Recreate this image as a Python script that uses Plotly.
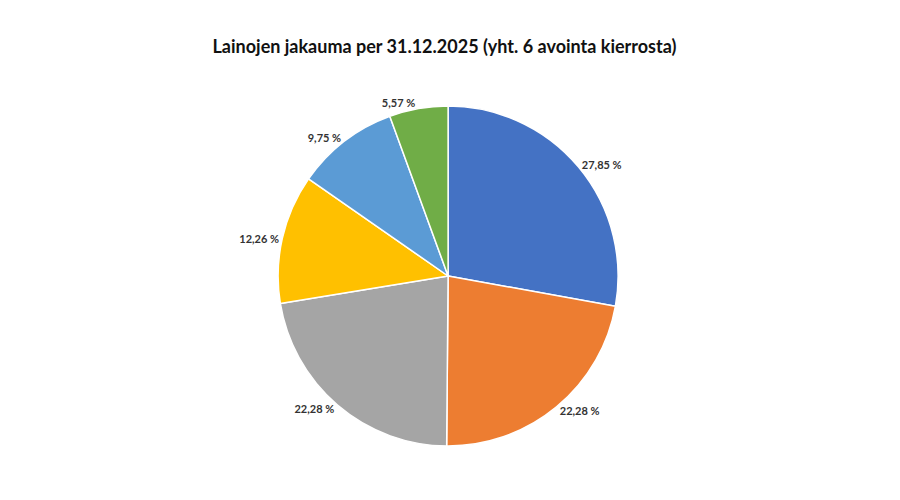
import plotly.graph_objects as go

categories = ["A", "B", "C", "D", "E", "F"]
values = [27.85, 22.28, 22.28, 12.26, 9.75, 5.57]
labels_txt = ["<b>27,85 %</b>", "<b>22,28 %</b>", "<b>22,28 %</b>", "<b>12,26 %</b>", "<b>9,75 %</b>", "<b>5,57 %</b>"]
colors = ["#4472C4", "#ED7D31", "#A5A5A5", "#FFC000", "#5B9BD5", "#70AD47"]

fig = go.Figure(go.Pie(
    labels=categories, values=values, text=labels_txt, textinfo="text",
    textposition="outside", sort=False, direction="clockwise", rotation=0,
    marker=dict(colors=colors, line=dict(color="white", width=1.5)),
    textfont=dict(family="Lato", size=11, color="#333"),
    showlegend=False, domain=dict(x=[0.3, 0.678], y=[0.124, 0.804]),
))
fig.update_layout(
    width=900, height=500, paper_bgcolor="white",
    margin=dict(l=0, r=0, t=0, b=0),
    title=dict(text="<b>Lainojen jakauma per 31.12.2025 (yht. 6 avointa kierrosta)</b>",
               x=0.485, xanchor="center", y=0.922, yanchor="middle",
               font=dict(family="Lato", size=18, color="#111")),
)
fig.write_html("out.html")
